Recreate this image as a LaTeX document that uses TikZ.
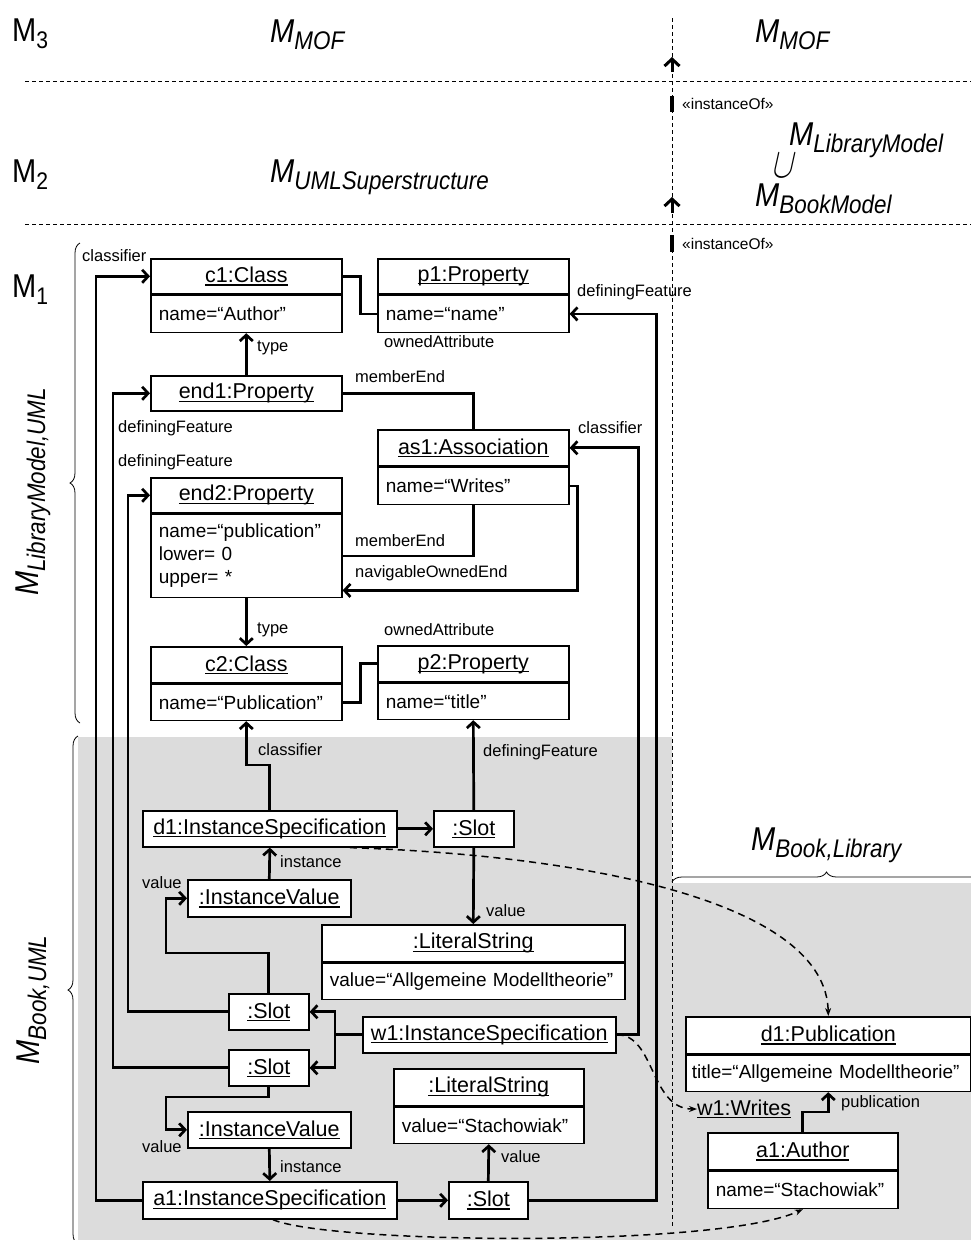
\documentclass[tikz,border=0pt]{standalone}
\usepackage{graphicx}
\usepackage{fontspec}
\setmainfont{Liberation Sans}
\newfontfamily\labelfont[FakeStretch=0.88]{Liberation Sans}
\usetikzlibrary{arrows.meta,decorations.pathreplacing,calc}

\definecolor{modelbg}{RGB}{220,220,220}

% underlined object names
\newcommand{\uln}[1]{\setbox0\hbox{#1}\rlap{\rule[-3pt]{\wd0}{1.3pt}}\box0}
% model names: italic M with a lowered index
\newcommand{\bigM}[1]{{\labelfont\fontsize{33}{35}\selectfont\itshape M\raisebox{-7pt}{\fontsize{25.5}{27}\selectfont #1}}}
% same, with the index kept out of the box depth
\newcommand{\bigMflat}[1]{{\labelfont\fontsize{33}{35}\selectfont\itshape M\raisebox{-7pt}[18pt][0pt]{\fontsize{25.5}{27}\selectfont #1}}}
% level names: upright M with a lowered digit
\newcommand{\levelM}[1]{{\labelfont\fontsize{33}{35}\selectfont M\raisebox{-7pt}{\fontsize{24}{26}\selectfont #1}}}

\tikzset{
  objtitle/.style={draw, line width=1.6pt, fill=white, anchor=north west,
    inner sep=0pt, minimum height=35pt, font=\fontsize{21.5}{24}\selectfont},
  objattr/.style={draw, line width=1.6pt, fill=white, anchor=north west,
    inner xsep=8pt, inner ysep=0pt, minimum height=37pt, align=left,
    font=\fontsize{19}{23}\selectfont},
  conn/.style={line width=2.7pt, -{Straight Barb[length=6pt,width=13pt]}},
  plainlink/.style={line width=2.7pt},
  lbl/.style={font=\fontsize{16.5}{18}\selectfont, inner sep=0pt, anchor=west},
  dlink/.style={line width=1.5pt, dash pattern=on 7pt off 5pt,
    -{Stealth[length=8pt,width=6pt]}},
  levelline/.style={line width=0.9pt, dash pattern=on 4pt off 3pt},
  curly/.style={line width=0.8pt, decorate, decoration={brace, amplitude=10pt}},
  ioarrow/.style={line width=3pt, -{Straight Barb[length=7pt,width=15pt]}},
  iobar/.style={line width=4.5pt},
  bigname/.style={inner sep=0pt, anchor=base west},
}

\begin{document}
\begin{tikzpicture}[x=1pt,y=-1pt]
\useasboundingbox (0,0) rectangle (971,1240);
\clip (0,0) rectangle (971,1240);

% instance level backgrounds
\fill[modelbg] (78,737) -- (672,737) -- (672,883) -- (971,883) -- (971,1240) -- (78,1240) -- cycle;

% level separators
\draw[levelline] (25,81) -- (971,81);
\draw[levelline] (25,224) -- (971,224);
\draw[levelline] (672,18) -- (672,1226);

% level names
\node[bigname] (m3) at (12,41) {\levelM{3}};
\node[bigname] (m2) at (12,182) {\levelM{2}};
\node[bigname] (m1) at (12,297) {\levelM{1}};
\node[bigname] (mmofl) at (270,42) {\bigM{MOF}};
\node[bigname] (muml) at (270,182) {\bigM{UMLSuperstructure}};
\node[bigname] (mmofr) at (755,42) {\bigM{MOF}};
\node[bigname] (mlib) at (789,145) {\bigMflat{LibraryModel}};
\begin{scope}[shift={(784,166)}]
  \node[inner sep=0pt, xslant=0.22, transform shape] (mcup) at (0,0)
    {\fontsize{24}{24}\selectfont\scalebox{1.25}[1.7]{$\cup$}};
\end{scope}
\node[bigname] (mbook) at (755,206) {\bigM{BookModel}};
\node[bigname] (mbl) at (751,850) {\bigM{Book,Library}};
\node[inner sep=0pt, rotate=90] (mlu) at (33,492) {\bigM{LibraryModel,UML}};
\node[inner sep=0pt, rotate=90] (mbu) at (33,1000) {\bigM{Book,UML}};

% braces
\draw[curly] (80,723) -- (80,243);
\draw[curly] (78,1244) -- (78,736);
\draw[curly] (672,882) -- (981,882);

% instanceOf between levels
\coordinate (ioa) at (672,72); \coordinate (iob) at (672,57);
\coordinate (ioc) at (672,213); \coordinate (iod) at (672,197);
\draw[ioarrow] (ioa) -- (iob);
\draw[ioarrow] (ioc) -- (iod);
\draw[iobar] (672,96) -- (672,112);
\draw[iobar] (672,235) -- (672,252);
\node[inner sep=0pt, anchor=west, font=\fontsize{15.5}{17}\selectfont] (io1) at (682,104) {«instanceOf»};
\node[inner sep=0pt, anchor=west, font=\fontsize{15.5}{17}\selectfont] (io2) at (682,244) {«instanceOf»};

% ---- M1: library model as UML objects
\node[objtitle, minimum width=191pt] (c1) at (150,258) {\uln{c1:Class}};
\node[objattr, text width=175pt] (c1a) at (c1.south west) {name=“Author”};
\node[objtitle, minimum width=191pt] (p1) at (377,258) {\uln{p1:Property}};
\node[objattr, text width=175pt] (p1a) at (p1.south west) {name=“name”};
\node[objtitle, minimum width=191pt] (end1) at (150,375) {\uln{end1:Property}};
\node[objtitle, minimum width=191pt, minimum height=36pt] (as1) at (377,429) {\uln{as1:Association}};
\node[objattr, text width=175pt] (as1a) at (as1.south west) {name=“Writes”};
\node[objtitle, minimum width=191pt] (end2) at (150,477) {\uln{end2:Property}};
\node[objattr, text width=175pt, minimum height=83pt] (end2a) at (end2.south west) {name=“publication”\\lower= 0\\upper= *};
\node[objtitle, minimum width=191pt, minimum height=36pt] (c2) at (150,646) {\uln{c2:Class}};
\node[objattr, text width=175pt, minimum height=36pt] (c2a) at (c2.south west) {name=“Publication”};
\node[objtitle, minimum width=191pt, minimum height=36pt] (p2) at (377,645) {\uln{p2:Property}};
\node[objattr, text width=175pt, minimum height=36pt] (p2a) at (p2.south west) {name=“title”};

% ---- M1: book model as UML objects
\node[objtitle, minimum width=254pt, minimum height=36pt] (d1) at (142,810) {\uln{d1:InstanceSpecification}};
\node[objtitle, minimum width=80pt, minimum height=36pt] (slotd) at (433,810) {\uln{:Slot}};
\node[objtitle, minimum width=163pt, minimum height=37pt] (ivU) at (187,879) {\uln{:InstanceValue}};
\node[objtitle, minimum width=303pt, minimum height=37pt] (lsU) at (321,924) {\uln{:LiteralString}};
\node[objattr, text width=287pt, minimum height=36pt] (lsUa) at (lsU.south west) {value=“Allgemeine Modelltheorie”};
\node[objtitle, minimum width=80pt, minimum height=36pt] (slotU) at (228,993) {\uln{:Slot}};
\node[objtitle, minimum width=253pt, minimum height=36pt] (w1) at (362,1016) {\uln{w1:InstanceSpecification}};
\node[objtitle, minimum width=80pt, minimum height=36pt] (slotL) at (228,1049) {\uln{:Slot}};
\node[objtitle, minimum width=190pt, minimum height=37pt] (lsL) at (393,1068) {\uln{:LiteralString}};
\node[objattr, text width=174pt, minimum height=36pt] (lsLa) at (lsL.south west) {value=“Stachowiak”};
\node[objtitle, minimum width=163pt, minimum height=36pt] (ivL) at (187,1111) {\uln{:InstanceValue}};
\node[objtitle, minimum width=254pt, minimum height=37pt] (a1) at (142,1181) {\uln{a1:InstanceSpecification}};
\node[objtitle, minimum width=79pt, minimum height=37pt] (slot3) at (448,1181) {\uln{:Slot}};

% ---- M0 side: the book itself
\node[objtitle, minimum width=285pt, minimum height=37pt] (pub) at (685,1016) {\uln{d1:Publication}};
\node[objattr, text width=273pt, inner xsep=6pt, minimum height=36pt] (puba) at (pub.south west) {title=“Allgemeine Modelltheorie”};
\node[inner sep=0pt, anchor=west, font=\fontsize{21.5}{24}\selectfont] (wr) at (697,1109) {\uln{w1:Writes}};
\node[objtitle, minimum width=190pt, minimum height=37pt] (auth) at (707,1132) {\uln{a1:Author}};
\node[objattr, text width=174pt, minimum height=37pt] (autha) at (auth.south west) {name=“Stachowiak”};

% ---- links in the library model
\draw[plainlink] (c1.east) -- ++(18,0) |- (p1a.west);
\draw[conn] (end1.north) -- (c1a.south);
\draw[plainlink] (end1.east) -| (as1.north);
\draw[plainlink] (as1a.south) |- (end2a.east);
\draw[conn] (as1a.east) -- ++(8,0) |- ([yshift=-34.5pt]end2a.east);
\draw[conn] (end2a.south) -- (c2.north);
\draw[plainlink] (c2a.east) -- ++(18,0) |- (p2.west);

% ---- links in the book model
\draw[conn] (d1.north) -- ++(0,-45) -| (c2a.south);
\draw[conn] (d1.east) -- (slotd.west);
\draw[conn] (slotd.north) -- (p2a.south);
\draw[conn] (slotd.south) -- (lsU.north);
\draw[conn] (ivU.north) -- (d1.south);
\draw[conn] (slotU.north) |- (166,953) |- (ivU.west);
\draw[conn] (slotU.west) -| ([xshift=-22pt]end2.west) -- (end2.west);
\draw[conn] (slotL.west) -| ([xshift=-37pt]end1.west) -- (end1.west);
\draw[conn] (w1.west) -- ++(-27,0) |- (slotU.east);
\draw[conn] (w1.west) -- ++(-27,0) |- (slotL.east);
\draw[conn] (slotL.south) |- (166,1097) |- (ivL.west);
\draw[conn] (ivL.south) -- (a1.north);
\draw[conn] (a1.west) -| ([xshift=-54pt]c1.west) -- (c1.west);
\draw[conn] (a1.east) -- (slot3.west);
\draw[conn] (slot3.north) -- (lsLa.south);
\draw[conn] (slot3.east) -| ([xshift=87pt]p1a.east) -- (p1a.east);
\draw[conn] (w1.east) -| ([xshift=69pt]as1.east) -- (as1.east);
\draw[conn] (auth.north) -- ++(0,-20) -| (puba.south);

% ---- representation links
\draw[dlink] ([xshift=80pt]d1.south) .. controls (600,856) and (826,905) .. (pub.north);
\draw[dlink] (w1.east) .. controls (655,1034) and (650,1109) .. (wr.west);
\draw[dlink] ([xshift=3pt]a1.south) .. controls (330,1244) and (720,1248) .. (autha.south);

% ---- role labels
\node[lbl] (l1) at (82,256) {classifier};
\node[lbl] (l2) at (384,342) {ownedAttribute};
\node[lbl] (l3) at (257,348) {type};
\node[lbl] (l4) at (355,377) {memberEnd};
\node[lbl] (l5) at (118,428) {definingFeature};
\node[lbl] (l6) at (118,462) {definingFeature};
\node[lbl] (l7) at (577,292) {definingFeature};
\node[lbl] (l8) at (578,428) {classifier};
\node[lbl] (l9) at (355,541) {memberEnd};
\node[lbl] (l10) at (355,573) {navigableOwnedEnd};
\node[lbl] (l11) at (257,630) {type};
\node[lbl] (l12) at (384,630) {ownedAttribute};
\node[lbl] (l13) at (258,750) {classifier};
\node[lbl] (l14) at (483,752) {definingFeature};
\node[lbl] (l15) at (280,862) {instance};
\node[lbl] (l16) at (142,883) {value};
\node[lbl] (l17) at (486,911) {value};
\node[lbl] (l18) at (142,1147) {value};
\node[lbl] (l19) at (280,1167) {instance};
\node[lbl] (l20) at (501,1157) {value};
\node[lbl] (l21) at (841,1103) {publication};
\end{tikzpicture}
\end{document}
